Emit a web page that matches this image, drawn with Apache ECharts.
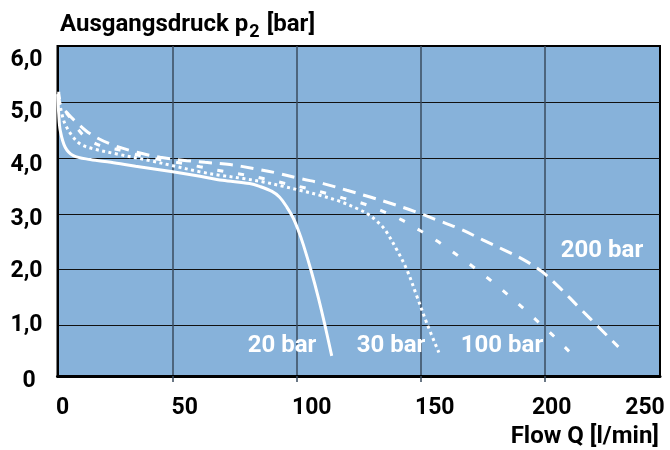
<!DOCTYPE html>
<html>
<head>
<meta charset="utf-8">
<script src="https://cdn.jsdelivr.net/npm/echarts@6/dist/echarts.min.js"></script>
<style>html,body{margin:0;padding:0;background:#fff}#c{width:670px;height:450px}</style>
</head>
<body>
<div id="c"></div>
<script>
// ---- data ----
var flow20 = [3.6, 4.0, 4.6, 6.6, 9.9, 16.7, 25, 35, 50, 61, 70, 81, 85, 90, 93, 96, 98.5, 100.5, 102.7, 106, 108.7, 111.4, 114.1];
var p20    = [5.14, 4.78, 4.49, 4.19, 4.04, 3.97, 3.92, 3.85, 3.75, 3.67, 3.60, 3.54, 3.49, 3.40, 3.30, 3.12, 2.93, 2.72, 2.44, 1.95, 1.50, 1.00, 0.46];

var flow30 = [3.8, 4.5, 5.3, 6.6, 9.3, 12.6, 18, 27.4, 40.8, 50, 61, 69, 78.5, 86.5, 94.6, 101.3, 109.4, 117.5, 125, 128.5, 132, 135.5, 140.3, 144.4, 148.4, 152.4, 157.3];
var p30    = [5.12, 4.95, 4.78, 4.60, 4.40, 4.25, 4.16, 4.07, 3.95, 3.86, 3.75, 3.69, 3.63, 3.57, 3.49, 3.42, 3.33, 3.22, 3.08, 3.00, 2.88, 2.72, 2.36, 2.00, 1.53, 1.05, 0.52];

var flow100 = [3.9, 5.2, 8.6, 14, 20.7, 28.7, 36.8, 46.2, 54.3, 61, 70.4, 78.5, 86.5, 94.6, 102.7, 110.7, 118.8, 126.9, 135, 142.3, 149.7, 157.1, 163.8, 171.2, 177.9, 184.7, 191.4, 197.8, 204.2, 210.5];
var p100    = [5.15, 4.93, 4.72, 4.40, 4.22, 4.14, 4.04, 3.96, 3.90, 3.84, 3.76, 3.70, 3.63, 3.55, 3.47, 3.38, 3.28, 3.18, 3.04, 2.89, 2.70, 2.50, 2.29, 2.05, 1.82, 1.57, 1.31, 1.05, 0.79, 0.51];

var flow200 = [4.0, 4.6, 7.9, 11.3, 16.7, 24.7, 35.5, 44.9, 55.6, 63, 73.1, 82.5, 91.9, 101.3, 110.7, 120.2, 129.6, 139, 147.7, 156.5, 165.8, 175.2, 183.3, 191.4, 198.8, 206.2, 214.2, 222.3, 229.7];
var p200    = [5.18, 4.96, 4.78, 4.63, 4.43, 4.25, 4.10, 4.01, 3.95, 3.92, 3.88, 3.81, 3.73, 3.63, 3.54, 3.42, 3.30, 3.17, 3.04, 2.89, 2.73, 2.53, 2.36, 2.18, 1.97, 1.67, 1.31, 0.95, 0.62];

var seriesNames = ['20 bar', '30 bar', '100 bar', '200 bar'];

var xTickValues = [0, 50, 100, 150, 200, 250];
var xTickLabels = ['0', '50', '100', '150', '200', '250'];
var yTickValues = [0, 1, 2, 3, 4, 5, 6];
var yTickLabels = ['0', '1,0', '2,0', '3,0', '4,0', '5,0', '6,0'];

var yAxisTitle = 'Ausgangsdruck p';
var yAxisTitleSub = '2';
var yAxisTitleUnit = ' [bar]';
var xAxisTitle = 'Flow Q [l/min]';

// ---- layout / style ----
var xMin = 3.5, xMax = 246.5, yMin = 0.1, yMax = 6;
var FONT = 'Roboto';
var BG = '#87b2da';
// per-label nudges (px) of the tick labels, as in the reference drawing
var xLabelNudge = [5, 12, 15, 14, 7, -15];
var yLabelNudge = [5, 0, 2, 5, 7, 10, 14];

function pairs(xs, ys) { return xs.map(function (x, i) { return [x, ys[i]]; }); }
function clamp(v, a, b) { return Math.max(a, Math.min(b, v)); }

var xLabelPos = xTickValues.map(function (v) { return clamp(v, xMin, xMax); });
var yLabelPos = yTickValues.map(function (v) { return clamp(v, yMin, yMax); });

var xRich = {}, yRich = {};
xLabelNudge.forEach(function (d, i) {
  xRich['x' + i] = { fontFamily: FONT, fontWeight: 'bold', fontSize: 23, color: '#000',
    padding: d >= 0 ? [0, 0, 0, 2 * d] : [0, -2 * d, 0, 0] };
});
yLabelNudge.forEach(function (d, i) {
  yRich['y' + i] = { fontFamily: FONT, fontWeight: 'bold', fontSize: 23, color: '#000',
    padding: d >= 0 ? [2 * d, 0, 0, i === 0 ? 5 : 0] : [0, 0, -2 * d, 0] };
});

function idxOf(arr, v) {
  var best = 0, bd = Infinity;
  arr.forEach(function (a, i) { var d = Math.abs(a - v); if (d < bd) { bd = d; best = i; } });
  return best;
}

var chart = echarts.init(document.getElementById('c'), null, { renderer: 'canvas' });

var lineStyles = [
  { color: '#fff', width: 3, type: 'solid' },
  { color: '#fff', width: 3, type: [3, 3.5] },
  { color: '#fff', width: 3, type: [6, 15] },
  { color: '#fff', width: 3, type: [13, 8] }
];
var datasets = [pairs(flow20, p20), pairs(flow30, p30), pairs(flow100, p100), pairs(flow200, p200)];

var labelStyle = { fill: '#fff', font: 'bold 24px ' + FONT, textAlign: 'center', textVerticalAlign: 'middle' };

var option = {
  animation: false,
  backgroundColor: '#fff',
  title: [
    { text: '{a|' + yAxisTitle + '}{s|' + yAxisTitleSub + '}{a|' + yAxisTitleUnit + '}',
      left: 55, top: 8,
      textStyle: { rich: {
        a: { fontFamily: FONT, fontWeight: 'bold', fontSize: 24, color: '#000', verticalAlign: 'top', lineHeight: 30 },
        s: { fontFamily: FONT, fontWeight: 'bold', fontSize: 18, color: '#000', verticalAlign: 'top', lineHeight: 30, padding: [10, 1, 0, 1] }
      } } },
    { text: xAxisTitle, right: 6, top: 420,
      textStyle: { fontFamily: FONT, fontWeight: 'bold', fontSize: 24, color: '#000' } }
  ],
  grid: { left: 57.5, right: 10, top: 46, bottom: 74, show: true, backgroundColor: BG,
          borderColor: '#000', borderWidth: 2, containLabel: false },
  xAxis: {
    type: 'value', min: xMin, max: xMax,
    axisLine: { show: true, onZero: false, lineStyle: { color: '#000', width: 3 } },
    axisTick: { show: true, customValues: [50, 100, 150, 200], length: 6, inside: false,
                lineStyle: { color: '#3a4b5e', width: 1.5 } },
    axisLabel: { show: true, customValues: xLabelPos, margin: 21,
      formatter: function (v) { var i = idxOf(xLabelPos, v); return '{x' + i + '|' + xTickLabels[i] + '}'; },
      rich: xRich },
    splitLine: { show: true, lineStyle: { color: '#3a4b5e', width: 1.5 } }
  },
  yAxis: {
    type: 'value', min: yMin, max: yMax,
    axisLine: { show: true, onZero: false, lineStyle: { color: '#000', width: 2 } },
    axisTick: { show: false, customValues: [1, 2, 3, 4, 5] },
    axisLabel: { show: true, customValues: yLabelPos, margin: 31, align: 'center',
      formatter: function (v) { var i = idxOf(yLabelPos, v); return '{y' + i + '|' + yTickLabels[i] + '}'; },
      rich: yRich },
    splitLine: { show: true, lineStyle: { color: '#111', width: 1.2 } }
  },
  series: datasets.map(function (d, i) {
    return { type: 'line', name: seriesNames[i], data: d, showSymbol: false, symbol: 'none',
             smooth: 0.35, lineStyle: lineStyles[i], z: 3 };
  }),
  graphic: [
    { type: 'text', x: 282, y: 346, style: Object.assign({ text: seriesNames[0] }, labelStyle), z: 10 },
    { type: 'text', x: 391, y: 346, style: Object.assign({ text: seriesNames[1] }, labelStyle), z: 10 },
    { type: 'text', x: 502, y: 346, style: Object.assign({ text: seriesNames[2] }, labelStyle), z: 10 },
    { type: 'text', x: 602, y: 251, style: Object.assign({ text: seriesNames[3] }, labelStyle), z: 10 }
  ]
};
chart.setOption(option);
</script>
</body>
</html>
